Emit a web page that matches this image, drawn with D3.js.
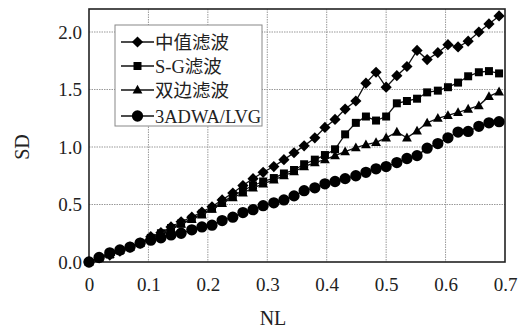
<!DOCTYPE html>
<html>
<head>
<meta charset="utf-8">
<script src="https://cdn.jsdelivr.net/npm/d3@7"></script>
<style>
  body { margin: 0; background: #fff; }
</style>
</head>
<body>
<div id="chart"></div>
<script>
// NL sample positions (x axis)
const nl = [0, 0.017, 0.035, 0.052, 0.069, 0.086, 0.104, 0.121, 0.138, 0.155,
  0.173, 0.190, 0.207, 0.224, 0.242, 0.259, 0.276, 0.293, 0.311, 0.328,
  0.345, 0.362, 0.380, 0.397, 0.414, 0.431, 0.449, 0.466, 0.483, 0.500,
  0.518, 0.535, 0.552, 0.569, 0.587, 0.604, 0.621, 0.638, 0.656, 0.673, 0.690];

const seriesNames = ["中值滤波", "S-G滤波", "双边滤波", "3ADWA/LVG"];

const medianSD = [0, 0.035, 0.06, 0.095, 0.13, 0.165, 0.22, 0.255, 0.305, 0.35,
  0.39, 0.435, 0.48, 0.54, 0.60, 0.665, 0.725, 0.78, 0.83, 0.89,
  0.95, 1.01, 1.08, 1.17, 1.24, 1.33, 1.40, 1.555, 1.65, 1.52,
  1.62, 1.70, 1.84, 1.76, 1.82, 1.89, 1.87, 1.92, 2.00, 2.07, 2.14];

const sgSD = [0, 0.035, 0.065, 0.10, 0.13, 0.165, 0.21, 0.25, 0.295, 0.335,
  0.375, 0.42, 0.465, 0.52, 0.575, 0.62, 0.665, 0.70, 0.73, 0.77,
  0.80, 0.85, 0.89, 0.93, 0.98, 1.11, 1.21, 1.265, 1.23, 1.265,
  1.38, 1.40, 1.42, 1.475, 1.49, 1.52, 1.56, 1.615, 1.65, 1.66, 1.64];

const bilateralSD = [0, 0.035, 0.065, 0.10, 0.13, 0.165, 0.205, 0.245, 0.29, 0.33,
  0.37, 0.41, 0.46, 0.51, 0.56, 0.60, 0.645, 0.68, 0.715, 0.75,
  0.785, 0.83, 0.865, 0.89, 0.925, 0.96, 0.995, 1.02, 1.04, 1.08,
  1.13, 1.08, 1.14, 1.21, 1.25, 1.275, 1.30, 1.33, 1.36, 1.44, 1.48];

const adwaSD = [0, 0.04, 0.08, 0.105, 0.13, 0.165, 0.19, 0.21, 0.235, 0.25,
  0.28, 0.305, 0.32, 0.36, 0.39, 0.43, 0.455, 0.49, 0.515, 0.54,
  0.575, 0.62, 0.645, 0.68, 0.70, 0.725, 0.75, 0.78, 0.81, 0.83,
  0.865, 0.90, 0.925, 0.99, 1.03, 1.08, 1.13, 1.135, 1.18, 1.21, 1.22];

const xTicks = [0, 0.1, 0.2, 0.3, 0.4, 0.5, 0.6, 0.7];
const yTicks = [0, 0.5, 1.0, 1.5, 2.0];

const W = 521, H = 333;
const plot = {left: 89, right: 505, top: 9, bottom: 262};
const FONT = "'Liberation Serif', 'Times New Roman', 'Noto Sans CJK SC', serif";

const svg = d3.select("#chart").append("svg")
  .attr("width", W)
  .attr("height", H);

const x = d3.scaleLinear().domain([0, 0.7]).range([plot.left, plot.right]);
const y = d3.scaleLinear().domain([0, 2.2]).range([plot.bottom, plot.top]);

// marker shapes, drawn around (0,0)
function markerPath(kind) {
  if (kind === "diamond") return "M0,-5.6L5.6,0L0,5.6L-5.6,0Z";
  if (kind === "square") return "M-4,-4H4V4H-4Z";
  if (kind === "triangle") return "M0,-5.2L4.9,3.6H-4.9Z";
  return d3.symbol().type(d3.symbolCircle).size(100)();
}

const series = [
  {name: seriesNames[0], values: medianSD, marker: "diamond"},
  {name: seriesNames[1], values: sgSD, marker: "square"},
  {name: seriesNames[2], values: bilateralSD, marker: "triangle"},
  {name: seriesNames[3], values: adwaSD, marker: "circle"}
];

// grid
svg.append("g")
  .selectAll("line")
  .data(xTicks.slice(1, -1))
  .enter().append("line")
  .attr("x1", d => x(d)).attr("x2", d => x(d))
  .attr("y1", plot.top).attr("y2", plot.bottom)
  .attr("stroke", "#999").attr("stroke-width", 1)
  .attr("stroke-dasharray", "1.5,1");

svg.append("g")
  .selectAll("line")
  .data(yTicks.slice(1))
  .enter().append("line")
  .attr("x1", plot.left).attr("x2", plot.right)
  .attr("y1", d => y(d)).attr("y2", d => y(d))
  .attr("stroke", "#999").attr("stroke-width", 1)
  .attr("stroke-dasharray", "1.5,1");

// axes
const xAxis = svg.append("g")
  .attr("transform", `translate(0,${plot.bottom})`)
  .call(d3.axisBottom(x).tickValues(xTicks).tickSize(0).tickPadding(16)
    .tickFormat(d => d === 0 ? "0" : d3.format(".1f")(d)));
xAxis.select(".domain").remove();
xAxis.selectAll("text")
  .style("font-family", FONT).style("font-size", "19px").attr("fill", "#222");

const yAxis = svg.append("g")
  .attr("transform", `translate(${plot.left},0)`)
  .call(d3.axisLeft(y).tickValues(yTicks).tickSize(0).tickPadding(7)
    .tickFormat(d3.format(".1f")));
yAxis.select(".domain").remove();
yAxis.selectAll("text")
  .style("font-family", FONT).style("font-size", "19px").attr("fill", "#222");

// frame
svg.append("rect")
  .attr("x", plot.left).attr("y", plot.top)
  .attr("width", plot.right - plot.left)
  .attr("height", plot.bottom - plot.top)
  .attr("fill", "none")
  .attr("stroke", "#222")
  .attr("stroke-width", 1.6);

// series
const line = d3.line().x((d, i) => x(nl[i])).y(d => y(d));

series.forEach(s => {
  svg.append("path")
    .datum(s.values)
    .attr("d", line)
    .attr("fill", "none")
    .attr("stroke", "#111")
    .attr("stroke-width", 1.3);

  svg.append("g")
    .selectAll("path")
    .data(s.values)
    .enter().append("path")
    .attr("d", markerPath(s.marker))
    .attr("transform", (d, i) => `translate(${x(nl[i])},${y(d)})`)
    .attr("fill", "#000");
});

// axis titles
svg.append("text")
  .attr("x", 273)
  .attr("y", 325)
  .attr("text-anchor", "middle")
  .attr("fill", "#222")
  .style("font-family", FONT)
  .style("font-size", "20px")
  .text("NL");

svg.append("text")
  .attr("transform", "translate(29,147) rotate(-90)")
  .attr("text-anchor", "middle")
  .attr("fill", "#222")
  .style("font-family", FONT)
  .style("font-size", "20px")
  .text("SD");

// legend
const legend = svg.append("g").attr("transform", "translate(115,25)");
legend.append("rect")
  .attr("width", 147).attr("height", 101)
  .attr("fill", "#fff")
  .attr("stroke", "#888")
  .attr("stroke-width", 1);

const legendRows = [17, 41, 65, 91];
series.forEach((s, i) => {
  const row = legend.append("g").attr("transform", `translate(0,${legendRows[i]})`);
  row.append("line")
    .attr("x1", 6).attr("x2", 39)
    .attr("stroke", "#111").attr("stroke-width", 1.3);
  row.append("path")
    .attr("d", markerPath(s.marker))
    .attr("transform", "translate(22.5,0)")
    .attr("fill", "#000");
  row.append("text")
    .attr("x", 40)
    .attr("y", 6.5)
    .attr("fill", "#222")
    .style("font-family", FONT)
    .style("font-size", "18.5px")
    .text(s.name);
});
</script>
</body>
</html>
